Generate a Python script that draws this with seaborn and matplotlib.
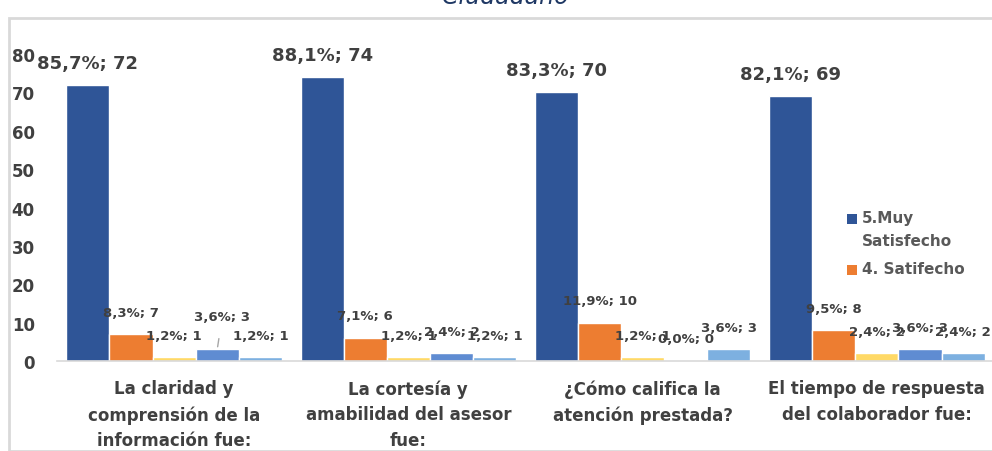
import pandas as pd
import matplotlib.pyplot as plt
import seaborn as sns
from matplotlib.patches import Rectangle

# data
categories = [
    'La claridad y\ncomprensión de la\ninformación fue:',
    'La cortesía y\namabilidad del asesor\nfue:',
    '¿Cómo califica la\natención prestada?',
    'El tiempo de respuesta\ndel colaborador fue:',
]
series = ['5.Muy Satisfecho', '4. Satifecho', '3. Neutral', '2. Insatisfecho', '1. Muy Insatisfecho']
counts = [
    [72, 74, 70, 69],
    [7, 6, 10, 8],
    [1, 1, 1, 2],
    [3, 2, 0, 3],
    [1, 1, 3, 2],
]
percents = [
    ['85,7%', '88,1%', '83,3%', '82,1%'],
    ['8,3%', '7,1%', '11,9%', '9,5%'],
    ['1,2%', '1,2%', '1,2%', '2,4%'],
    ['3,6%', '2,4%', '0,0%', '3,6%'],
    ['1,2%', '1,2%', '3,6%', '2,4%'],
]
legend_labels = ['5.Muy\nSatisfecho', '4. Satifecho']
colors = ['#2F5597', '#ED7D31', '#FFD966', '#5F8CD2', '#7DB0E0']
text_color = '#404040'

rows = []
for s, vals in zip(series, counts):
    for c, v in zip(categories, vals):
        rows.append({'categoria': c, 'serie': s, 'valor': v})
df = pd.DataFrame(rows)

sns.set_style('white')
plt.rcParams['font.family'] = ['DejaVu Sans']

fig = plt.figure(figsize=(9.92, 4.52), dpi=100)
ax = fig.add_axes([57 / 992, 90 / 452, 937 / 992, 307 / 452])

sns.barplot(data=df, x='categoria', y='valor', hue='serie', palette=colors,
            width=0.92, gap=0, saturation=1, legend=False, ax=ax)

ax.set_ylim(0, 80)
ax.set_xlim(-0.5, 3.5)
ax.set_yticks(range(0, 81, 10))
ax.set_xlabel('')
ax.set_ylabel('')

for sp in ['top', 'right', 'left']:
    ax.spines[sp].set_visible(False)
ax.spines['bottom'].set_color('#D9D9D9')
ax.spines['bottom'].set_linewidth(1.2)

ax.tick_params(axis='y', length=0, pad=16, labelsize=12, labelcolor=text_color)
ax.tick_params(axis='x', which='major', length=0, pad=13, labelsize=12, labelcolor=text_color)
for lab in ax.get_yticklabels() + ax.get_xticklabels():
    lab.set_fontweight('bold')
for lab in ax.get_xticklabels():
    lab.set_linespacing(1.55)
ax.set_xticks([-0.5, 0.5, 1.5, 2.5, 3.5], minor=True)
ax.tick_params(axis='x', which='minor', length=6, color='#D9D9D9', width=1.2)

# data labels "pct; n"
for i, cont in enumerate(ax.containers):
    for j, bar in enumerate(cont):
        x = bar.get_x() + bar.get_width() / 2
        h = bar.get_height()
        txt = f'{percents[i][j]}; {counts[i][j]}'
        size = 13 if i == 0 else 9.5
        if i == 3 and j == 0:
            # this one was dragged up in the original, with a leader line
            ax.annotate(txt, xy=(x, h), xytext=(5, 33), textcoords='offset pixels',
                        ha='center', va='center', fontsize=size, fontweight='bold',
                        color=text_color,
                        arrowprops=dict(arrowstyle='-', color='#A6A6A6', lw=1,
                                        shrinkA=9, shrinkB=-2))
        else:
            ax.annotate(txt, xy=(x, h), xytext=(0, 22), textcoords='offset pixels',
                        ha='center', va='center', fontsize=size, fontweight='bold',
                        color=text_color)

# legend (only the first two entries fit in the original)
leg_y = [1 - 220 / 452, 1 - 271 / 452]
for c, lab, y in zip(colors[:2], legend_labels, leg_y):
    fig.patches.append(Rectangle((847 / 992, y - 5 / 452), 10 / 992, 10 / 452,
                                 transform=fig.transFigure, facecolor=c, edgecolor='none'))
    fig.text(862 / 992, y + 9 / 452, lab, ha='left', va='top', fontsize=11,
             fontweight='bold', color='#595959', linespacing=1.65)

# chart border and cut-off title
fig.patches.append(Rectangle((9 / 992, 0), 1.2, 1 - 19 / 452, transform=fig.transFigure,
                             fill=False, edgecolor='#D9D9D9', linewidth=2))
fig.text(505 / 992, 1 - 4 / 452, 'Ciudadano', ha='center', va='baseline',
         fontsize=17, style='italic', color='#1F3864')

fig.savefig('out.png', dpi=100)
